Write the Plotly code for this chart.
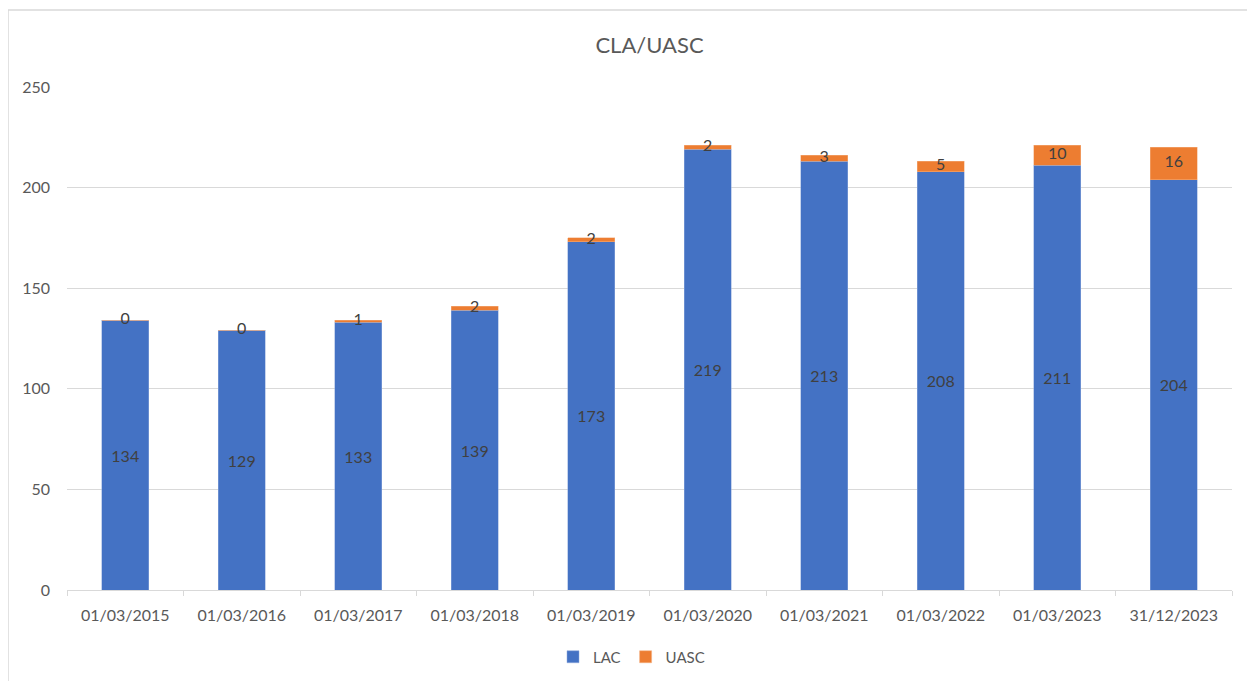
import plotly.graph_objects as go

categories = ["01/03/2015", "01/03/2016", "01/03/2017", "01/03/2018", "01/03/2019",
              "01/03/2020", "01/03/2021", "01/03/2022", "01/03/2023", "31/12/2023"]
lac = [134, 129, 133, 139, 173, 219, 213, 208, 211, 204]
uasc = [0, 0, 1, 2, 2, 2, 3, 5, 10, 16]

FONT = "Lato"
GRAY = "#595959"
LABEL = "#404040"

# page body has an 8px margin; figure coordinates below are offset accordingly
ML, MR, MT, MB = 59, 31, 79, 99
PW = 1255 - ML - MR
PH = 681 - MT - MB

fig = go.Figure()
fig.add_trace(go.Bar(
    x=categories, y=lac, name="LAC", marker_color="#4472C4",
    marker_line=dict(color="#8FAADC", width=0.5),
    text=[str(v) for v in lac], textposition="inside", insidetextanchor="middle",
    textfont=dict(family=FONT, size=16, color=LABEL), textangle=0,
))
fig.add_trace(go.Bar(
    x=categories, y=uasc, name="UASC", marker_color="#ED7D31",
    marker_line=dict(color="#F4B183", width=0.5),
    hoverinfo="y",
))
fig.add_trace(go.Scatter(
    x=categories, y=[l + u / 2 for l, u in zip(lac, uasc)],
    mode="text", text=[str(v) for v in uasc], showlegend=False,
    textfont=dict(family=FONT, size=16, color=LABEL), textposition="middle center",
    hoverinfo="skip",
))

fig.update_layout(
    width=1255, height=681,
    barmode="stack", bargap=0.6,
    paper_bgcolor="white", plot_bgcolor="white",
    margin=dict(l=ML, r=MR, t=MT, b=MB),
    title=dict(text="CLA/UASC", x=0.5, xref="paper", y=1 - 37 / 681, yanchor="middle",
               font=dict(family=FONT, size=22, color=GRAY)),
    font=dict(family=FONT, color=GRAY),
    uniformtext=dict(minsize=16, mode="show"),
    legend=dict(orientation="h", x=0.5 - 18 / PW, xanchor="center", xref="paper",
                y=-(657 - 590) / PH, yanchor="middle",
                font=dict(family=FONT, size=15, color=GRAY), traceorder="normal",
                itemwidth=30),
    showlegend=True,
    shapes=[dict(type="rect", xref="paper", yref="paper",
                 x0=-ML / PW, x1=(1246 - ML) / PW, y0=-(PH + 200) / PH,
                 y1=(MT + PH - 2) / PH,
                 line=dict(color="#D9D9D9", width=1.5), layer="below")],
)
fig.update_yaxes(range=[0, 250], dtick=50, showgrid=True, gridcolor="#D9D9D9", gridwidth=1,
                 zeroline=False, showline=False, ticks="",
                 tickfont=dict(family=FONT, size=16, color=GRAY), ticklabelstandoff=16)
fig.update_xaxes(showline=True, linecolor="#D9D9D9", linewidth=1,
                 ticks="outside", tickson="boundaries", ticklen=5, tickcolor="#D9D9D9",
                 tickfont=dict(family=FONT, size=16, color=GRAY), ticklabelstandoff=11)

fig.write_html("out.html")
